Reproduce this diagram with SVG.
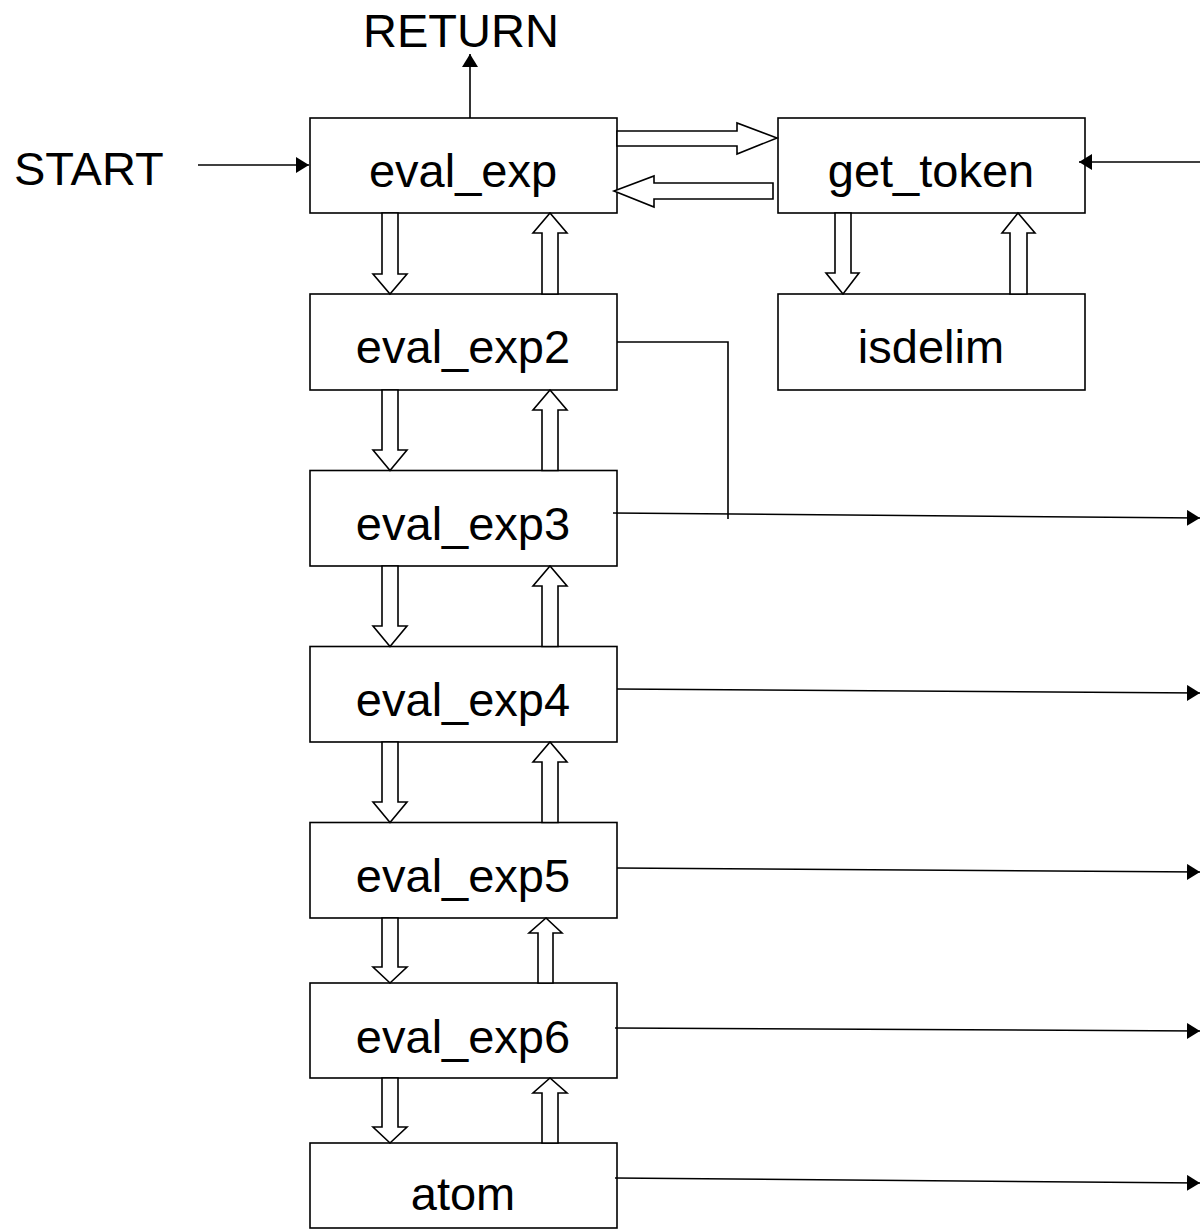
<svg xmlns="http://www.w3.org/2000/svg" width="1200" height="1230" viewBox="0 0 1200 1230">
<style>
.box{fill:#fff;stroke:#000;stroke-width:1.6}
.lbl{font-family:"Liberation Sans",Arial,sans-serif;font-size:47px;fill:#000;text-anchor:middle}
.free{font-family:"Liberation Sans",Arial,sans-serif;font-size:47px;fill:#000}
.ln{fill:none;stroke:#000;stroke-width:1.6}
.hol{fill:#fff;stroke:#000;stroke-width:1.6;stroke-linejoin:miter}
</style>
<defs>
<marker id="ah" markerUnits="userSpaceOnUse" markerWidth="16" markerHeight="18" refX="13" refY="8" orient="auto">
<path d="M0,0 L13,8 L0,16 z" fill="#000"/>
</marker>
</defs>
<rect width="1200" height="1230" fill="#fff"/>
<text class="lbl" x="461" y="47">RETURN</text>
<text class="free" x="14" y="185">START</text>
<g id="eval_exp"><rect class="box" x="310" y="118" width="307" height="95"/><text class="lbl" x="463" y="187">eval_exp</text></g>
<g id="eval_exp2"><rect class="box" x="310" y="294" width="307" height="96"/><text class="lbl" x="463" y="363">eval_exp2</text></g>
<g id="eval_exp3"><rect class="box" x="310" y="470.5" width="307" height="95.5"/><text class="lbl" x="463" y="540">eval_exp3</text></g>
<g id="eval_exp4"><rect class="box" x="310" y="646.5" width="307" height="95.5"/><text class="lbl" x="463" y="716">eval_exp4</text></g>
<g id="eval_exp5"><rect class="box" x="310" y="822.5" width="307" height="95.5"/><text class="lbl" x="463" y="892">eval_exp5</text></g>
<g id="eval_exp6"><rect class="box" x="310" y="983" width="307" height="95"/><text class="lbl" x="463" y="1053">eval_exp6</text></g>
<g id="atom"><rect class="box" x="310" y="1143" width="307" height="85"/><text class="lbl" x="463" y="1210">atom</text></g>
<g id="get_token"><rect class="box" x="778" y="118" width="307" height="95"/><text class="lbl" x="931" y="187">get_token</text></g>
<g id="isdelim"><rect class="box" x="778" y="294" width="307" height="96"/><text class="lbl" x="931" y="363">isdelim</text></g>
<g id="connectors">
<line class="ln" x1="470" y1="118" x2="470" y2="54" marker-end="url(#ah)"/>
<line class="ln" x1="198" y1="165" x2="309" y2="165" marker-end="url(#ah)"/>
<line class="ln" x1="1200" y1="162" x2="1079" y2="162" marker-end="url(#ah)"/>
<polygon class="hol" points="617,131 737,131 737,123 777,138 737,154 737,146 617,146"/>
<polygon class="hol" points="773,183 654,183 654,176 614,191 654,207 654,199 773,199"/>
<polygon class="hol" points="382,213 398,213 398,274 407,274 390,294 373,274 382,274"/>
<polygon class="hol" points="542,294 542,233 533,233 550,213 567,233 558,233 558,294"/>
<polygon class="hol" points="382,390 398,390 398,450 407,450 390,470.5 373,450 382,450"/>
<polygon class="hol" points="542,470.5 542,410 533,410 550,390 567,410 558,410 558,470.5"/>
<polygon class="hol" points="382,566 398,566 398,626 407,626 390,646.5 373,626 382,626"/>
<polygon class="hol" points="542,646.5 542,586 533,586 550,566 567,586 558,586 558,646.5"/>
<polygon class="hol" points="382,742 398,742 398,802 407,802 390,822.5 373,802 382,802"/>
<polygon class="hol" points="542,822.5 542,762 533,762 550,742 567,762 558,762 558,822.5"/>
<polygon class="hol" points="382,918 398,918 398,967 407,967 390,983 373,967 382,967"/>
<polygon class="hol" points="538,983 538,933 529,933 546,918 562,933 553,933 553,983"/>
<polygon class="hol" points="382,1078 398,1078 398,1127 407,1127 390,1143 373,1127 382,1127"/>
<polygon class="hol" points="542,1143 542,1093 533,1093 550,1078 567,1093 558,1093 558,1143"/>
<polygon class="hol" points="835,213 851,213 851,273 859,273 843,294 826,273 835,273"/>
<polygon class="hol" points="1010,294 1010,233 1002,233 1018,213 1035,233 1027,233 1027,294"/>
<polyline class="ln" points="617,342 728,342 728,519"/>
<line class="ln" x1="613" y1="513" x2="1200" y2="518" marker-end="url(#ah)"/>
<line class="ln" x1="617" y1="689" x2="1200" y2="693" marker-end="url(#ah)"/>
<line class="ln" x1="617" y1="868" x2="1200" y2="872" marker-end="url(#ah)"/>
<line class="ln" x1="615" y1="1028" x2="1200" y2="1031" marker-end="url(#ah)"/>
<line class="ln" x1="615" y1="1178" x2="1200" y2="1183" marker-end="url(#ah)"/>
</g>
</svg>
